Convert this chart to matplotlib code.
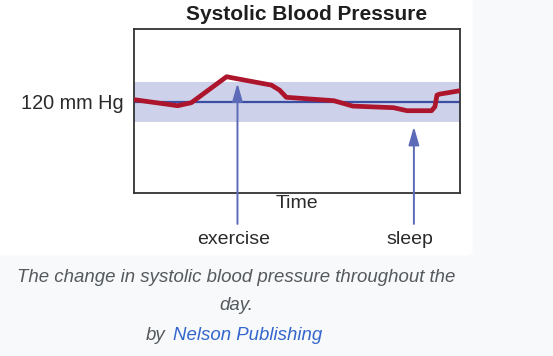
import matplotlib.pyplot as plt
from matplotlib.patches import FancyBboxPatch

plt.rcParams['font.family'] = ['Liberation Sans', 'DejaVu Sans']

# red trace: hour of the day vs systolic pressure (mm Hg)
hours = [0, 3.2, 4.2, 6.8, 7.4, 10.1, 10.7, 11.2, 14.7, 16.1, 19.1, 20.1, 21.9, 22.15, 22.3, 22.5, 24]
pressure = [121, 118, 119.5, 132.5, 131.7, 128.3, 125.8, 122.2, 120.5, 117.8, 117, 115.5, 115.5, 117.5, 123.3, 123.8, 125.5]

normal_bp = 120
normal_band = (110, 130)

events = ['exercise', 'sleep']
event_hours = [7.6, 20.6]
event_tips = [129.2, 107.5]
arrow_base = 58.9

caption_lines = ['The change in systolic blood pressure throughout the', 'day.']
credit = 'Nelson Publishing'

fig = plt.figure(figsize=(5.53, 3.56), dpi=100)
fig.patch.set_facecolor('#f8f9fa')

# white card behind the figure
panel = FancyBboxPatch((-0.02, 0.282), 0.875, 0.75, boxstyle='round,pad=0,rounding_size=0.012',
                       transform=fig.transFigure, facecolor='white', edgecolor='none', zorder=-5)
fig.patches.append(panel)

ax = fig.add_axes([0.2429, 0.4587, 0.589, 0.459])
ax.set_facecolor('white')
ax.set_xlim(0, 24)
ax.set_ylim(74.5, 156.2)

ax.axhspan(normal_band[0], normal_band[1], color='#cdd1ea', lw=0, zorder=1)
ax.axhline(normal_bp, color='#3b4ea3', lw=1.6, zorder=2)

for name, t, tip in zip(events, event_hours, event_tips):
    ax.annotate('', xy=(t, tip), xytext=(t, arrow_base), annotation_clip=False,
                arrowprops=dict(arrowstyle='-|>,head_length=0.55,head_width=0.16', mutation_scale=20,
                                color='#5c6bb8', lw=1.4, shrinkA=0, shrinkB=0), zorder=3)
    ax.annotate(name, xy=(t, arrow_base), xytext=(-3, -11.5), textcoords='offset points',
                ha='center', va='center', fontsize=14, color='#2a2a2a', annotation_clip=False)

ax.plot(hours, pressure, color='#ad152d', lw=3.4, solid_capstyle='round', solid_joinstyle='round', zorder=4)

ax.set_xticks([])
ax.set_yticks([normal_bp])
ax.set_yticklabels(['120 mm Hg'])
ax.tick_params(axis='y', length=0, pad=8, labelsize=14.3, labelcolor='#2a2a2a')
ax.set_xlabel('Time', fontsize=14, color='#2a2a2a', labelpad=2)
ax.set_title('Systolic Blood Pressure', fontsize=15, fontweight='bold', color='#1e1e1e', pad=7, x=0.53)

for s in ax.spines.values():
    s.set_color('#333333')
    s.set_linewidth(1.3)

# caption below the card
for line, ypix in zip(caption_lines, [277, 306]):
    fig.text(236 / 553, 1 - ypix / 356, line, ha='center', va='center', style='italic',
             color='#54595d', fontsize=13.4)
fig.text(165 / 553, 1 - 335 / 356, 'by', ha='right', va='center', style='italic',
         color='#54595d', fontsize=13.4)
fig.text(173 / 553, 1 - 335 / 356, credit, ha='left', va='center', style='italic',
         color='#3366cc', fontsize=13.4)

fig.savefig('out.png', dpi=100, facecolor=fig.get_facecolor())
